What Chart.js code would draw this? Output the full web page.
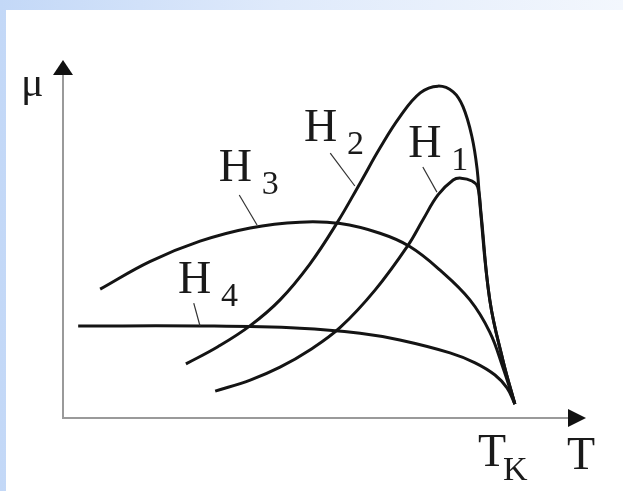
<!DOCTYPE html>
<html lang="ru">
<head>
  <meta charset="UTF-8">
  <title>μ(T) при разных H</title>
  <script src="https://cdn.jsdelivr.net/npm/chart.js"></script>
  <style>
    html, body {
      margin: 0;
      padding: 0;
    }
    body {
      width: 623px;
      height: 491px;
      overflow: hidden;
      position: relative;
      background: linear-gradient(90deg, #c3d8f7 0%, #dfeafb 45%, #f3f7fd 100%);
    }
    .panel {
      position: absolute;
      left: 6px;
      top: 10px;
      right: 0;
      bottom: 0;
      background: #fff;
    }
    canvas {
      position: absolute;
      left: 0;
      top: 0;
    }
  </style>
</head>
<body>
  <div class="panel"></div>
  <canvas id="muChart" width="623" height="491"></canvas>

  <script>
    // температура (усл. ед.) и проницаемость для каждого поля
    const h1T  = [29.1, 35.8, 41.5, 47.2, 53.0, 59.7, 66.0, 68.8, 71.7, 74.6, 76.1, 78.2, 79.3, 79.9, 81.6, 84.1, 86.4];
    const h1Mu = [7.5, 10.6, 14.2, 19.0, 25.3, 35.8, 48.3, 55.3, 62.3, 66.5, 67.0, 66.2, 64.5, 57.5, 33.0, 16.2, 3.9];

    const h2T  = [23.5, 29.6, 35.8, 41.5, 47.2, 52.4, 56.8, 60.6, 64.4, 68.3, 71.7, 74.6, 76.5, 78.2, 79.2, 79.7, 81.6, 84.1, 86.4];
    const h2Mu = [15.1, 19.9, 25.8, 33.0, 43.0, 54.5, 65.6, 75.4, 84.1, 90.8, 92.7, 91.1, 86.9, 78.5, 69.3, 60.1, 33.0, 16.2, 3.9];

    const h3T  = [7.1, 16.6, 26.2, 35.8, 45.3, 53.0, 60.6, 66.3, 72.1, 77.8, 81.6, 84.1, 86.4];
    const h3Mu = [36.0, 43.7, 49.4, 53.1, 54.7, 54.3, 51.6, 47.9, 41.3, 33.0, 24.0, 14.2, 3.9];

    const h4T  = [2.9, 26.2, 45.3, 56.8, 64.4, 74.0, 78.8, 82.6, 84.9, 86.4];
    const h4Mu = [25.7, 25.7, 25.1, 23.7, 21.8, 18.2, 15.4, 12.0, 8.4, 3.9];

    const seriesNames = ['H1', 'H2', 'H3', 'H4'];
    const seriesT = [h1T, h2T, h3T, h4T];
    const seriesMu = [h1Mu, h2Mu, h3Mu, h4Mu];

    // подписи кривых: точка привязки буквы H и выноска до кривой
    const curveLabels = [
      { sub: '1', x: 66.0, y: 72.9, from: [68.8, 70.1], to: [71.5, 63.1] },
      { sub: '2', x: 46.1, y: 77.4, from: [51.1, 74.0], to: [55.8, 64.8] },
      { sub: '3', x: 29.8, y: 66.2, from: [33.7, 62.3], to: [37.1, 53.9] },
      { sub: '4', x: 22.0, y: 34.9, from: [25.0, 32.1], to: [26.2, 25.7] }
    ];

    const serif = '"Liberation Serif", "DejaVu Serif", serif';

    const decorPlugin = {
      id: 'decor',
      afterDraw(chart) {
        const ctx = chart.ctx;
        const a = chart.chartArea;
        const xs = chart.scales.x;
        const ys = chart.scales.y;

        ctx.save();
        // оси
        ctx.strokeStyle = '#9a9a9a';
        ctx.lineWidth = 2;
        ctx.beginPath();
        ctx.moveTo(a.left, a.top + 12);
        ctx.lineTo(a.left, a.bottom);
        ctx.lineTo(a.right - 14, a.bottom);
        ctx.stroke();

        // стрелки
        ctx.fillStyle = '#111';
        ctx.beginPath();
        ctx.moveTo(a.left, a.top);
        ctx.lineTo(a.left - 10, a.top + 15);
        ctx.lineTo(a.left + 10, a.top + 15);
        ctx.closePath();
        ctx.fill();
        ctx.beginPath();
        ctx.moveTo(a.right, a.bottom);
        ctx.lineTo(a.right - 18, a.bottom - 9);
        ctx.lineTo(a.right - 18, a.bottom + 9);
        ctx.closePath();
        ctx.fill();

        // выноски
        ctx.strokeStyle = '#333';
        ctx.lineWidth = 1.2;
        curveLabels.forEach(l => {
          ctx.beginPath();
          ctx.moveTo(xs.getPixelForValue(l.from[0]), ys.getPixelForValue(l.from[1]));
          ctx.lineTo(xs.getPixelForValue(l.to[0]), ys.getPixelForValue(l.to[1]));
          ctx.stroke();
        });

        // подписи H1..H4
        ctx.fillStyle = '#1a1a1a';
        ctx.textBaseline = 'alphabetic';
        ctx.textAlign = 'left';
        curveLabels.forEach(l => {
          const px = xs.getPixelForValue(l.x);
          const py = ys.getPixelForValue(l.y);
          ctx.font = '46px ' + serif;
          ctx.fillText('H', px, py);
          ctx.font = '34px ' + serif;
          ctx.fillText(l.sub, px + 43, py + 13);
        });

        // подписи осей
        ctx.font = '42px ' + serif;
        ctx.fillText('μ', a.left - 42, a.top + 36);
        ctx.font = '46px ' + serif;
        ctx.fillText('T', a.right - 19, a.bottom + 51);
        ctx.fillText('T', a.left + 415, a.bottom + 48);
        ctx.font = '34px ' + serif;
        ctx.fillText('K', a.left + 440, a.bottom + 62);
        ctx.restore();
      }
    };

    new Chart(document.getElementById('muChart'), {
      type: 'line',
      data: {
        datasets: seriesNames.map((name, i) => ({
          label: name,
          data: seriesT[i].map((t, k) => ({ x: t, y: seriesMu[i][k] })),
          borderColor: '#141414',
          borderWidth: 3,
          pointRadius: 0,
          fill: false,
          tension: 0.4
        }))
      },
      options: {
        responsive: false,
        animation: false,
        layout: {
          padding: { left: 63, right: 37, top: 60, bottom: 73 }
        },
        scales: {
          x: { type: 'linear', min: 0, max: 100, display: false },
          y: { min: 0, max: 100, display: false }
        },
        plugins: {
          legend: { display: false },
          tooltip: { enabled: false }
        }
      },
      plugins: [decorPlugin]
    });
  </script>
</body>
</html>
